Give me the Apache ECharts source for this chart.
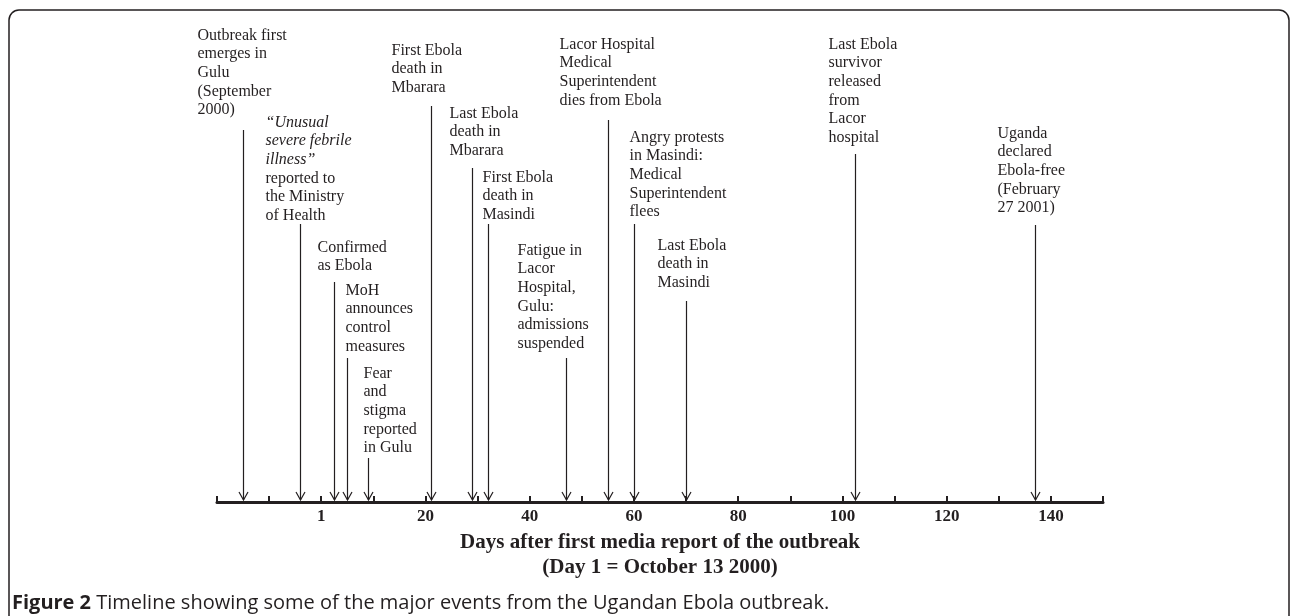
<!DOCTYPE html>
<html>
<head>
<meta charset="utf-8">
<script src="https://cdn.jsdelivr.net/npm/echarts@6/dist/echarts.min.js"></script>
<style>
  html, body { margin: 0; padding: 0; background: #fff; }
  #chart { width: 1290px; height: 616px; }
</style>
</head>
<body>
<div id="chart"></div>
<script>
// day 0 on the axis is "Day 1" = October 13 2000
var eventDays = [-15, -4, 2.5, 5, 9, 21, 29, 32, 47, 55, 60, 70, 102.5, 137];
var eventLabels = [
  'Outbreak first\nemerges in\nGulu\n(September\n2000)',
  '{i|\u201cUnusual}\n{i|severe febrile}\n{i|illness\u201d}\nreported to\nthe Ministry\nof Health',
  'Confirmed\nas Ebola',
  'MoH\nannounces\ncontrol\nmeasures',
  'Fear\nand\nstigma\nreported\nin Gulu',
  'First Ebola\ndeath in\nMbarara',
  'Last Ebola\ndeath in\nMbarara',
  'First Ebola\ndeath in\nMasindi',
  'Fatigue in\nLacor\nHospital,\nGulu:\nadmissions\nsuspended',
  'Lacor Hospital\nMedical\nSuperintendent\ndies from Ebola',
  'Angry protests\nin Masindi:\nMedical\nSuperintendent\nflees',
  'Last Ebola\ndeath in\nMasindi',
  'Last Ebola\nsurvivor\nreleased\nfrom\nLacor\nhospital',
  'Uganda\ndeclared\nEbola-free\n(February\n27 2001)'
];
var tickValues = [0, 20, 40, 60, 80, 100, 120, 140];
var tickLabels = ['1', '20', '40', '60', '80', '100', '120', '140'];

// layout (pixels): where each label block starts and where its arrow begins
var labelTop = [26, 113, 238, 281, 364, 41, 104, 168, 241, 35, 128, 236, 35, 124];
var labelDx = [-46, -35, -17, -2, -5, -40, -23, -6, -49, -49, -5, -29, -27, -38];
var arrowTop = [130, 224, 282, 358, 458, 106, 168, 224, 358, 120, 224, 301, 154, 225];

var ink = '#231f20';
var serif = '"Liberation Serif", "Times New Roman", serif';
var sans = '"Open Sans", "Noto Sans", sans-serif';

var chart = echarts.init(document.getElementById('chart'));

chart.setOption({
  backgroundColor: '#fff',
  animation: false,
  grid: { left: 217, right: 187, top: 0, bottom: 114 },
  xAxis: {
    type: 'value',
    min: -20,
    max: 150,
    interval: 10,
    splitLine: { show: false },
    axisLine: { lineStyle: { color: ink, width: 3 } },
    axisTick: { inside: true, length: 6, lineStyle: { color: ink, width: 2 } },
    axisLabel: {
      margin: 6,
      color: ink,
      fontFamily: serif,
      fontWeight: 'bold',
      fontSize: 17,
      formatter: function (v) {
        var k = tickValues.indexOf(v);
        return k < 0 ? '' : tickLabels[k];
      }
    },
    name: 'Days after first media report of the outbreak\n(Day 1 = October 13 2000)',
    nameLocation: 'middle',
    nameGap: 24,
    nameTextStyle: {
      color: ink,
      fontFamily: serif,
      fontWeight: 'bold',
      fontSize: 21,
      lineHeight: 25,
      verticalAlign: 'top'
    }
  },
  yAxis: { type: 'value', show: false, min: 0, max: 1 },
  series: [{
    type: 'custom',
    coordinateSystem: 'cartesian2d',
    data: eventDays.map(function (d) { return [d, 0]; }),
    renderItem: function (params, api) {
      var i = params.dataIndex;
      var p = api.coord([api.value(0), 0]);
      var x = Math.round(p[0]) + 0.5;
      var yEnd = p[1] - 2;
      return {
        type: 'group',
        children: [
          {
            type: 'line',
            shape: { x1: x, y1: arrowTop[i], x2: x, y2: yEnd },
            style: { stroke: ink, lineWidth: 1.2 }
          },
          {
            type: 'polyline',
            shape: { points: [[x - 4.5, yEnd - 8], [x, yEnd], [x + 4.5, yEnd - 8]] },
            style: { stroke: ink, fill: null, lineWidth: 1.2 }
          },
          {
            type: 'text',
            x: x + labelDx[i],
            y: labelTop[i],
            style: {
              text: eventLabels[i],
              fill: ink,
              fontFamily: serif,
              fontSize: 16,
              lineHeight: 18.7,
              align: 'left',
              verticalAlign: 'top',
              rich: {
                i: { fontStyle: 'italic', fontFamily: serif, fontSize: 16, lineHeight: 18.7, fill: ink }
              }
            }
          }
        ]
      };
    }
  }],
  graphic: [
    {
      type: 'rect',
      shape: { x: 9, y: 10, width: 1280, height: 700, r: [10, 10, 0, 0] },
      style: { fill: null, stroke: ink, lineWidth: 1.5 },
      silent: true
    },
    {
      type: 'text',
      left: 12,
      top: 593,
      style: {
        text: '{b|Figure 2} Timeline showing some of the major events from the Ugandan Ebola outbreak.',
        fill: ink,
        fontFamily: sans,
        fontSize: 20,
        rich: {
          b: { fontWeight: 'bold', fontFamily: sans, fontSize: 20, fill: ink }
        }
      }
    }
  ]
});
</script>
</body>
</html>
